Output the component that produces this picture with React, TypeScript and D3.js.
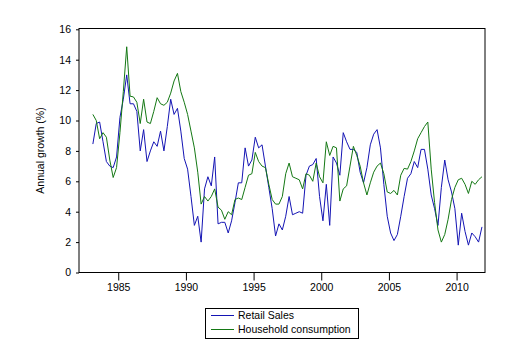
import { useEffect, useRef } from 'react';
import * as d3 from 'd3';

// quarterly observations, 1983Q1 - 2011Q4
const startYear = 1983;

const retailSales = [
  8.45, 9.8, 9.9, 8.6,
  7.3, 7.0, 6.9, 7.6,
  10.2, 11.4, 13.0, 11.1,
  11.1, 10.6, 8.0, 9.4,
  7.3, 8.0, 8.6, 8.3,
  9.3, 8.0, 9.6, 11.4,
  10.4, 10.8, 9.3, 7.5,
  6.8, 5.0, 3.1, 3.7,
  2.0, 5.5, 6.3, 5.7,
  7.6, 3.2, 3.3, 3.3,
  2.6, 3.4, 4.6, 5.9,
  5.9, 8.2, 7.0, 7.4,
  8.9, 8.2, 8.4, 7.0,
  5.6, 4.2, 2.4, 3.2,
  2.8, 3.7, 5.0, 3.8,
  3.9, 4.0, 3.9, 6.4,
  7.0, 7.1, 7.5, 5.0,
  3.4, 5.8, 3.1, 7.6,
  7.2, 6.4, 9.2, 8.6,
  8.1, 8.1, 7.9, 6.6,
  5.9, 6.9, 8.4, 9.1,
  9.4, 8.2, 5.8, 3.7,
  2.6, 2.1, 2.5, 3.7,
  5.0, 6.2, 6.5, 7.3,
  6.9, 8.1, 8.1, 6.8,
  5.1, 4.2, 3.1, 5.6,
  7.4, 6.1, 5.3, 4.2,
  1.8, 3.9, 2.7, 1.8,
  2.6, 2.35, 2.0, 3.0,
];

const householdConsumption = [
  10.4, 10.0, 8.8, 9.2,
  8.9, 7.4, 6.25, 6.9,
  9.2, 11.9, 14.85, 11.6,
  11.55, 11.2, 9.8, 11.4,
  9.9, 9.8, 10.6, 11.5,
  11.1, 11.0, 11.2, 11.8,
  12.6, 13.1, 11.9, 11.2,
  10.4, 9.3, 8.2, 6.6,
  4.5, 5.0, 4.7, 5.0,
  5.5, 4.3, 4.1, 3.5,
  4.0, 3.8, 4.8, 4.9,
  4.8, 5.6, 6.4, 6.5,
  7.9, 7.3, 7.0, 6.9,
  5.8, 4.8, 4.5, 4.5,
  5.0, 6.5, 7.2, 6.3,
  6.2, 6.1, 5.5, 6.5,
  6.4, 6.0, 7.2, 6.3,
  5.9, 8.6, 7.7, 8.3,
  8.2, 4.7, 5.5, 5.7,
  7.0, 8.3, 7.7, 7.0,
  5.9, 5.1, 5.9, 6.6,
  7.0, 7.2, 6.5, 5.3,
  5.2, 5.4, 5.1, 6.4,
  6.85, 6.8, 7.3, 8.0,
  8.8, 9.2, 9.6, 9.9,
  6.8, 4.6, 2.8, 2.0,
  2.5, 3.5, 4.8, 5.6,
  6.1, 6.2, 5.8, 5.2,
  6.0, 5.8, 6.1, 6.3,
];

const seriesNames = ['Retail Sales', 'Household consumption'];
const seriesColors = ['#1414b4', '#147814'];
const yTicks = [0, 2, 4, 6, 8, 10, 12, 14, 16];
const majorYears = [1985, 1990, 1995, 2000, 2005, 2010];
const minorYears = d3.range(1983, 2013);

const App = () => {
  const svgRef = useRef<SVGSVGElement>(null);
  const width = 528;
  const height = 364;

  useEffect(() => {
    if (!svgRef.current) return;
    const svg = d3.select(svgRef.current);
    svg.selectAll('*').remove();

    const font = '"Liberation Sans", Arial, sans-serif';
    const plot = { left: 79, right: 485, top: 28.5, bottom: 272.5 };

    const x = d3.scaleLinear().domain([1982.1, 2012.1]).range([plot.left, plot.right]);
    const y = d3.scaleLinear().domain([0, 16]).range([plot.bottom, 29.3]);

    svg.append('rect')
      .attr('width', width)
      .attr('height', height)
      .attr('fill', '#fff');

    // frame
    svg.append('rect')
      .attr('x', plot.left)
      .attr('y', plot.top)
      .attr('width', plot.right - plot.left)
      .attr('height', plot.bottom - plot.top)
      .attr('fill', 'none')
      .attr('stroke', '#000')
      .attr('stroke-width', 1);

    // y axis
    const yAxis = d3.axisLeft(y)
      .tickValues(yTicks)
      .tickSize(3)
      .tickPadding(5);
    const gy = svg.append('g')
      .attr('transform', `translate(${plot.left},0)`)
      .call(yAxis);
    gy.select('.domain').remove();
    gy.selectAll('text')
      .style('font-family', font)
      .style('font-size', '10.5px')
      .attr('fill', '#000');

    // x axis: minor ticks every year, longer ones every 5 years
    const gx = svg.append('g')
      .attr('transform', `translate(0,${plot.bottom})`);
    gx.call(d3.axisBottom(x).tickValues(minorYears).tickSize(4).tickFormat(() => ''));
    gx.call(d3.axisBottom(x).tickValues(majorYears).tickSize(8).tickPadding(3).tickFormat(d3.format('d')));
    gx.selectAll('.domain').remove();
    gx.selectAll('text')
      .style('font-family', font)
      .style('font-size', '10.5px')
      .attr('fill', '#000');

    svg.append('text')
      .attr('transform', `translate(40,${(plot.top + plot.bottom) / 2}) rotate(-90)`)
      .attr('text-anchor', 'middle')
      .attr('dy', '0.35em')
      .style('font-family', font)
      .style('font-size', '10.5px')
      .text('Annual growth (%)');

    // lines
    const toPoints = (vals: number[]) =>
      vals.map((v, i) => ({ t: startYear + i / 4 + 0.125, v }));
    const line = d3.line<{ t: number; v: number }>()
      .x(d => x(d.t))
      .y(d => y(d.v));

    [retailSales, householdConsumption].forEach((vals, i) => {
      svg.append('path')
        .datum(toPoints(vals))
        .attr('fill', 'none')
        .attr('stroke', seriesColors[i])
        .attr('stroke-width', 1)
        .attr('stroke-linejoin', 'round')
        .attr('d', line);
    });

    // legend
    const lg = svg.append('g');
    lg.append('rect')
      .attr('x', 205.5)
      .attr('y', 308.5)
      .attr('width', 153)
      .attr('height', 30)
      .attr('fill', '#fff')
      .attr('stroke', '#000');
    seriesNames.forEach((name, i) => {
      const ly = 315.5 + i * 14;
      lg.append('line')
        .attr('x1', 211)
        .attr('x2', 234)
        .attr('y1', ly)
        .attr('y2', ly)
        .attr('stroke', seriesColors[i]);
      lg.append('text')
        .attr('x', 238)
        .attr('y', ly)
        .attr('dy', '0.35em')
        .style('font-family', font)
        .style('font-size', '10.5px')
        .text(name);
    });
  }, []);

  return (
    <svg
      ref={svgRef}
      width={width}
      height={height}
      style={{ position: 'absolute', left: 0, top: 0, display: 'block' }}
    />
  );
};

export default App;
